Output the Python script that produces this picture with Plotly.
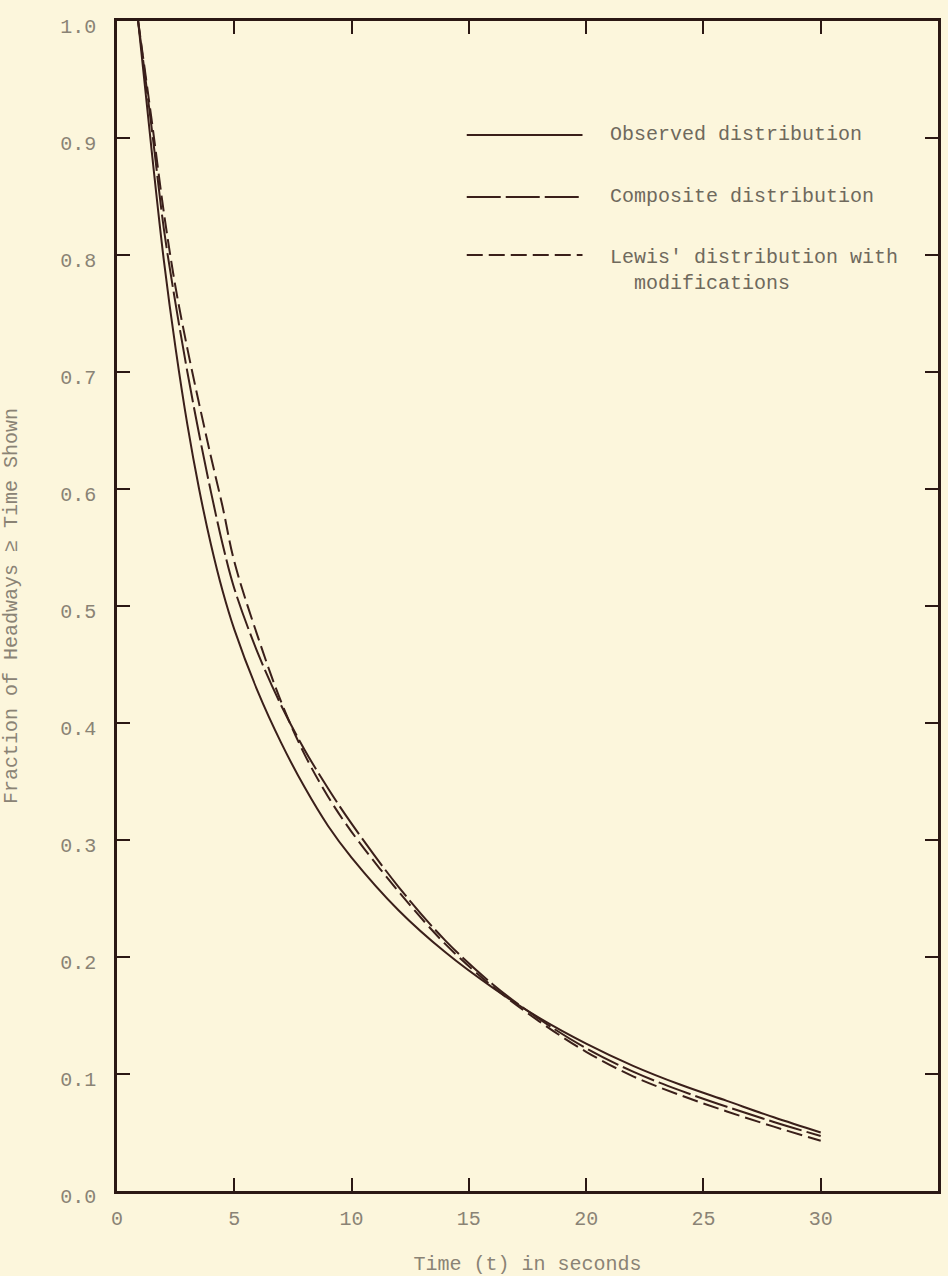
import plotly.graph_objects as go

# ---------------- data ----------------
t_values = [0.9, 1.5, 2.0, 2.5, 3.0, 3.5, 4.0, 4.5, 5.0, 6.0, 7.0, 8.0, 9.0, 10.0,
            12.0, 14.0, 16.0, 18.0, 20.0, 22.0, 24.0, 26.0, 28.0, 30.0]

observed = [1.000, 0.885, 0.795, 0.720, 0.655, 0.600, 0.553, 0.513, 0.480, 0.427,
            0.383, 0.345, 0.312, 0.285, 0.240, 0.204, 0.174, 0.148, 0.126, 0.107,
            0.091, 0.077, 0.063, 0.050]

composite = [1.000, 0.905, 0.822, 0.758, 0.700, 0.647, 0.598, 0.553, 0.515, 0.460,
             0.415, 0.377, 0.344, 0.314, 0.260, 0.214, 0.177, 0.147, 0.122, 0.102,
             0.086, 0.072, 0.059, 0.047]

lewis = [1.000, 0.912, 0.836, 0.772, 0.720, 0.673, 0.628, 0.585, 0.538, 0.474,
         0.418, 0.373, 0.337, 0.307, 0.256, 0.211, 0.175, 0.145, 0.119, 0.098,
         0.082, 0.068, 0.055, 0.043]

x_ticks = [0, 5, 10, 15, 20, 25, 30]
y_ticks = [0.0, 0.1, 0.2, 0.3, 0.4, 0.5, 0.6, 0.7, 0.8, 0.9, 1.0]

series_names = ["Observed distribution", "Composite distribution",
                "Lewis' distribution with<br>  modifications"]

# ---------------- style ----------------
BG = "#FCF6DC"
INK = "#3a1f1a"
AXIS = "#2b1814"
TXT = "#8a8375"
LEG_TXT = "#6f695d"
FONT = "Liberation Mono, Courier New, monospace"
dashes = ["solid", "34px,5px", "16px,6px"]

fig = go.Figure()
for name, vals, dash in zip(series_names, [observed, composite, lewis], dashes):
    fig.add_trace(go.Scatter(
        x=t_values, y=vals, mode="lines", name=name.replace("<br>", " "),
        line=dict(color=INK, width=2, dash=dash, shape="spline", smoothing=1.0),
        showlegend=False, hoverinfo="x+y",
    ))

# hand-drawn style legend (samples + labels) in paper coordinates
leg_x0, leg_x1, txt_x = 0.426, 0.567, 0.598
leg_rows = [0.9026, 0.8496, 0.8000]
for name, dash, yy in zip(series_names, dashes, leg_rows):
    fig.add_shape(type="line", xref="paper", yref="paper",
                  x0=leg_x0, x1=leg_x1, y0=yy, y1=yy,
                  line=dict(color=INK, width=2, dash=dash))
    multi = "<br>" in name
    fig.add_annotation(xref="paper", yref="paper", x=txt_x, y=yy,
                       xanchor="left", yanchor="top" if multi else "middle",
                       yshift=11 if multi else 0,
                       text=name, showarrow=False, align="left",
                       font=dict(family=FONT, size=20, color=LEG_TXT))

axis_common = dict(
    showline=True, linecolor=AXIS, linewidth=2.5, mirror="ticks",
    ticks="inside", ticklen=13, tickwidth=2, tickcolor=AXIS,
    showgrid=False, zeroline=False, automargin=False,
    tickfont=dict(family=FONT, size=20, color=TXT),
)

fig.update_xaxes(range=[0, 35], tickmode="array", tickvals=x_ticks,
                 ticktext=[str(v) for v in x_ticks],
                 ticklabelstandoff=7,
                 title=dict(text="Time (t) in seconds", standoff=32,
                            font=dict(family=FONT, size=20, color=TXT)),
                 **axis_common)
fig.update_yaxes(range=[0, 1.0], tickmode="array", tickvals=y_ticks,
                 ticktext=[f"{v:.1f}" for v in y_ticks],
                 ticklabelstandoff=14, ticklabelshift=5,
                 title=dict(text="Fraction of Headways \u2265 Time Shown", standoff=44,
                            font=dict(family=FONT, size=20, color=TXT)),
                 **axis_common)

fig.update_layout(
    width=948, height=1276,
    margin=dict(l=117, r=10, t=21, b=85),
    paper_bgcolor=BG, plot_bgcolor=BG,
    font=dict(family=FONT, size=20, color=TXT),
)

fig.write_html(
    "out.html",
    config={"displayModeBar": False},
    post_script=f"document.body.style.margin='0';document.body.style.background='{BG}';",
)
